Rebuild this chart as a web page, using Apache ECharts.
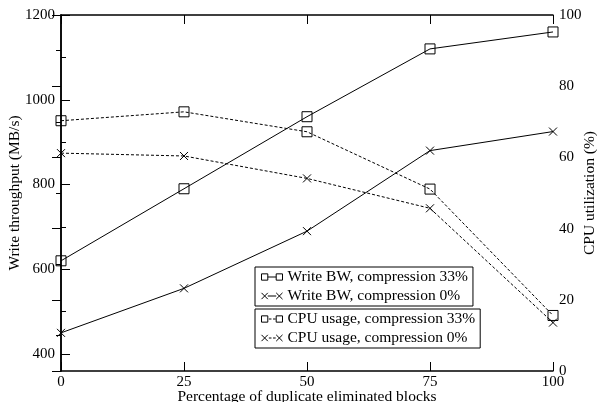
<!DOCTYPE html>
<html>
<head>
<meta charset="utf-8">
<script src="https://cdn.jsdelivr.net/npm/echarts@6/dist/echarts.min.js"></script>
<style>html,body{margin:0;padding:0;background:#fff;}#c{width:597px;height:402px;}</style>
</head>
<body>
<div id="c"></div>
<script>
var xValues = [0, 25, 50, 75, 100];
var writeBW33 = [620, 790, 960, 1120, 1160];
var writeBW0 = [450, 555, 690, 880, 925];
var cpu33 = [70.3, 72.8, 67.2, 51.1, 15.6];
var cpu0 = [61.2, 60.4, 54.1, 45.7, 13.6];
var leftMajorTicks = [400, 600, 800, 1000, 1200];
var leftMinorTicks = [500, 700, 900, 1100];
var seriesNames = ['Write BW, compression 33%', 'Write BW, compression 0%', 'CPU usage, compression 33%', 'CPU usage, compression 0%'];

var FONT = '"Liberation Serif", "DejaVu Serif", serif';
var crossPath = 'path://M0,0L10,10M10,0L0,10';

// legend glyphs: marker - line - marker
var sq = function (x) { return 'M' + x + ',0.5h6v6h-6z'; };
var cr = function (x) { return 'M' + x + ',0.5l6,6M' + (x + 6) + ',0.5l-6,6'; };
var iconSqSolid = 'path://' + sq(0.5) + 'M6.5,3.5h8' + sq(14.5);
var iconCrSolid = 'path://' + cr(0.5) + 'M6.5,3.5h8' + cr(14.5);
var iconSqDash = 'path://' + sq(0.5) + 'M7.5,3.5h2.5M11.5,3.5h2.5' + sq(14.5);
var iconCrDash = 'path://' + cr(0.5) + 'M7.5,3.5h2.5M11.5,3.5h2.5' + cr(14.5);

function pairs(vals) { return xValues.map(function (x, i) { return [x, vals[i]]; }); }

function mkSeries(name, vals, yIdx, symbol, size, dashed) {
  return {
    name: name, type: 'line', yAxisIndex: yIdx, data: pairs(vals),
    symbol: symbol, symbolSize: size, showSymbol: true,
    lineStyle: { color: '#000', width: 1, type: dashed ? [3, 2] : 'solid' },
    itemStyle: { color: 'rgba(255,255,255,0)', borderColor: '#000', borderWidth: 1 },
    emphasis: { disabled: true }, animation: false, z: 3
  };
}

var chart = echarts.init(document.getElementById('c'), null, { renderer: 'canvas' });
var axisLabelStyle = { fontFamily: FONT, fontSize: 15, color: '#000', formatter: function (v) { return String(v); } };
var legendText = { fontFamily: FONT, fontSize: 15.5, color: '#000' };
var nameStyle = { fontFamily: FONT, fontSize: 15.5, color: '#000' };
var legendItemStyle = { color: 'rgba(255,255,255,0)', borderColor: '#000', borderWidth: 1 };
chart.setOption({
  backgroundColor: '#fff',
  animation: false,
  grid: { left: 61, right: 44, top: 15, bottom: 31, outerBoundsMode: 'none', containLabel: false },
  legend: [
    {
      data: [{ name: seriesNames[0], icon: iconSqSolid }, { name: seriesNames[1], icon: iconCrSolid }],
      orient: 'vertical', left: 255, top: 267,
      borderColor: '#000', borderWidth: 1, borderRadius: 0, padding: [2, 5, 2, 6], itemGap: 3,
      itemWidth: 21, itemHeight: 7, textStyle: legendText, itemStyle: legendItemStyle, selectedMode: false
    },
    {
      data: [{ name: seriesNames[2], icon: iconSqDash }, { name: seriesNames[3], icon: iconCrDash }],
      orient: 'vertical', left: 255, top: 309,
      borderColor: '#000', borderWidth: 1, borderRadius: 0, padding: [2, 5, 2, 6], itemGap: 3,
      itemWidth: 21, itemHeight: 7, textStyle: legendText, itemStyle: legendItemStyle, selectedMode: false
    }
  ],
  xAxis: [
    {
      type: 'value', min: 0, max: 100, interval: 25, position: 'bottom',
      name: 'Percentage of duplicate eliminated blocks', nameLocation: 'middle', nameGap: 18,
      nameMoveOverlap: false, nameTextStyle: nameStyle,
      axisLine: { show: true, lineStyle: { color: '#000', width: 1.5 } },
      axisTick: { show: true, inside: true, length: 9, lineStyle: { color: '#000' } },
      axisLabel: Object.assign({ margin: 4 }, axisLabelStyle),
      splitLine: { show: false }
    },
    {
      type: 'value', min: 0, max: 100, interval: 25, position: 'top',
      axisLine: { show: true, lineStyle: { color: '#000', width: 1.5 } },
      axisTick: { show: true, inside: true, length: 9, lineStyle: { color: '#000' } },
      axisLabel: { show: false }, splitLine: { show: false }
    }
  ],
  yAxis: [
    {
      type: 'value', min: 360, max: 1200, position: 'left',
      name: 'Write throughput (MB/s)', nameLocation: 'middle', nameGap: 38, nameRotate: 90,
      nameMoveOverlap: false, nameTextStyle: nameStyle,
      axisLine: { show: true, lineStyle: { color: '#000', width: 1.5 } },
      axisTick: { show: true, inside: true, length: 9, customValues: leftMajorTicks, lineStyle: { color: '#000' } },
      axisLabel: Object.assign({ margin: 6, customValues: leftMajorTicks }, axisLabelStyle),
      splitLine: { show: false }
    },
    {
      type: 'value', min: 0, max: 100, interval: 20, position: 'right',
      name: 'CPU utilization (%)', nameLocation: 'middle', nameGap: 29, nameRotate: 90,
      nameMoveOverlap: false, nameTextStyle: nameStyle,
      axisLine: { show: true, lineStyle: { color: '#000', width: 1.5 } },
      axisTick: { show: true, inside: true, length: 9, lineStyle: { color: '#000' } },
      minorTick: { show: true, splitNumber: 2, length: 5, lineStyle: { color: '#000' } },
      axisLabel: Object.assign({ margin: 6 }, axisLabelStyle),
      splitLine: { show: false }
    },
    {
      type: 'value', min: 360, max: 1200, position: 'left',
      axisLine: { show: false },
      axisTick: { show: true, inside: true, length: 5, customValues: leftMinorTicks, lineStyle: { color: '#000' } },
      axisLabel: { show: false }, splitLine: { show: false }
    }
  ],
  series: [
    mkSeries(seriesNames[0], writeBW33, 0, 'rect', 10, false),
    mkSeries(seriesNames[1], writeBW0, 0, crossPath, 8, false),
    mkSeries(seriesNames[2], cpu33, 1, 'rect', 10, true),
    mkSeries(seriesNames[3], cpu0, 1, crossPath, 8, true)
  ]
});
</script>
</body>
</html>
